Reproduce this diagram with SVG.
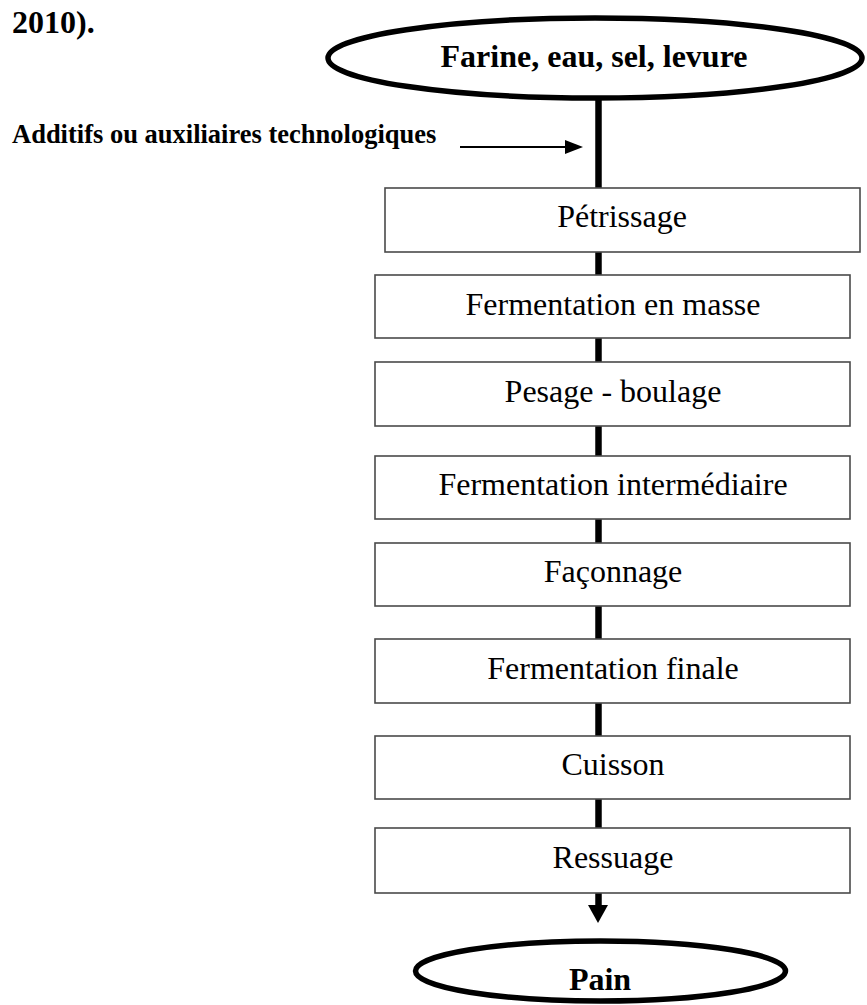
<svg xmlns="http://www.w3.org/2000/svg" width="867" height="1005" viewBox="0 0 867 1005">
<style>
.bg{fill:#fff}
.box{fill:#fff;stroke:#4a4a4a;stroke-width:1.6}
.oval{fill:#fff;stroke:#000;stroke-width:5.5}
.t{font-family:"Liberation Serif","Times New Roman",serif;font-size:32px;fill:#000;text-anchor:middle}
.b{font-family:"Liberation Serif","Times New Roman",serif;font-weight:bold;fill:#000}
.conn{stroke:#000;stroke-width:6.5;fill:none}
</style>
<rect class="bg" x="0" y="0" width="867" height="1005"/>
<text id="caption" class="b" x="12" y="33" font-size="32">2010).</text>
<text id="additifs" class="b" x="12" y="143" font-size="26.5">Additifs ou auxiliaires technologiques</text>
<g id="connectors">
<line class="conn" x1="598.5" y1="98" x2="598.5" y2="188"/>
<line class="conn" x1="598.5" y1="252" x2="598.5" y2="275"/>
<line class="conn" x1="598.5" y1="338" x2="598.5" y2="362"/>
<line class="conn" x1="598.5" y1="426" x2="598.5" y2="456"/>
<line class="conn" x1="598.5" y1="519" x2="598.5" y2="543"/>
<line class="conn" x1="598.5" y1="606" x2="598.5" y2="639"/>
<line class="conn" x1="598.5" y1="703" x2="598.5" y2="736"/>
<line class="conn" x1="598.5" y1="799" x2="598.5" y2="828"/>
<line class="conn" x1="598.5" y1="893" x2="598.5" y2="906"/>
<path d="M588,905 L608,905 L598,923 Z" fill="#000"/>
<line x1="460" y1="147" x2="566" y2="147" stroke="#000" stroke-width="2.2"/>
<path d="M565,140 L583,147 L565,154 Z" fill="#000"/>
</g>
<g id="n-start">
<ellipse class="oval" cx="595" cy="58" rx="267" ry="40"/>
<text class="b" x="594" y="67" font-size="32" text-anchor="middle">Farine, eau, sel, levure</text>
</g>
<g id="n-petrissage">
<rect class="box" x="385" y="188" width="475" height="64"/>
<text class="t" x="622" y="227">Pétrissage</text>
</g>
<g id="n-fermasse">
<rect class="box" x="375" y="275" width="475" height="63"/>
<text class="t" x="613" y="315">Fermentation en masse</text>
</g>
<g id="n-pesage">
<rect class="box" x="375" y="362" width="475" height="64"/>
<text class="t" x="613" y="402">Pesage - boulage</text>
</g>
<g id="n-ferminter">
<rect class="box" x="375" y="456" width="475" height="63"/>
<text class="t" x="613" y="495">Fermentation intermédiaire</text>
</g>
<g id="n-faconnage">
<rect class="box" x="375" y="543" width="475" height="63"/>
<text class="t" x="613" y="582">Façonnage</text>
</g>
<g id="n-fermfinale">
<rect class="box" x="375" y="639" width="475" height="64"/>
<text class="t" x="613" y="679">Fermentation finale</text>
</g>
<g id="n-cuisson">
<rect class="box" x="375" y="736" width="475" height="63"/>
<text class="t" x="613" y="775">Cuisson</text>
</g>
<g id="n-ressuage">
<rect class="box" x="375" y="828" width="475" height="65"/>
<text class="t" x="613" y="868">Ressuage</text>
</g>
<g id="n-pain">
<ellipse class="oval" cx="600.5" cy="971" rx="185" ry="30"/>
<text class="b" x="600" y="990" font-size="32" text-anchor="middle">Pain</text>
</g>
</svg>
